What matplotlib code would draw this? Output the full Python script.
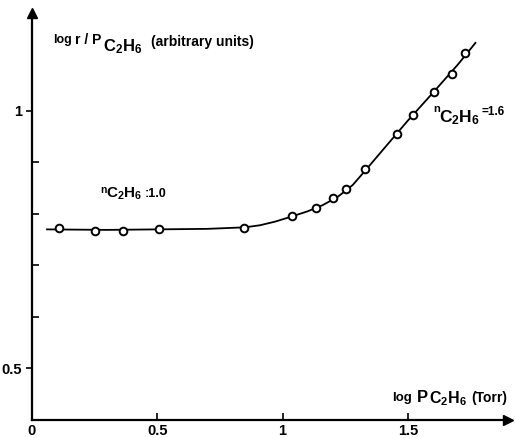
import matplotlib
matplotlib.use("Agg")
import matplotlib.pyplot as plt

# measured points (log P C2H6 vs log r/P C2H6)
log_p = [0.108, 0.251, 0.363, 0.506, 0.845, 1.036, 1.135, 1.200, 1.255,
         1.330, 1.455, 1.520, 1.605, 1.677, 1.730]
log_r = [0.773, 0.767, 0.766, 0.771, 0.773, 0.795, 0.812, 0.831, 0.849,
         0.887, 0.955, 0.992, 1.037, 1.072, 1.112]

# hand-drawn curve through the points
curve_x = [0.06, 0.30, 0.50, 0.70, 0.85, 0.91, 0.97, 1.03, 1.10, 1.16,
           1.22, 1.28, 1.33, 1.40, 1.50, 1.60, 1.70, 1.77]
curve_y = [0.770, 0.769, 0.770, 0.771, 0.774, 0.778, 0.785, 0.794, 0.805,
           0.817, 0.833, 0.856, 0.884, 0.924, 0.981, 1.035, 1.090, 1.132]

x_ticks = [0, 0.5, 1, 1.5]
x_labels = ["0", "0.5", "1", "1.5"]
y_ticks = [0.5, 1]
y_labels = ["0.5", "1"]
y_minor = [0.6, 0.7, 0.8, 0.9]

plt.rcParams["font.family"] = "Liberation Sans"
plt.rcParams["font.weight"] = "bold"
plt.rcParams["mathtext.fontset"] = "custom"
plt.rcParams["mathtext.rm"] = "Liberation Sans:bold"
plt.rcParams["mathtext.it"] = "Liberation Sans:bold"
plt.rcParams["mathtext.bf"] = "Liberation Sans:bold"

W, H = 515, 438
fig = plt.figure(figsize=(W / 100, H / 100), dpi=100)
ax = fig.add_axes([32 / W, 18 / H, 476 / W, 407 / H])
ax.set_xlim(0, 1.9)
ax.set_ylim(0.4, 1.19)

ax.plot(curve_x, curve_y, color="black", lw=1.3)
ax.plot(log_p, log_r, "o", ms=5.5, mfc="white", mec="black", mew=1.4)

for side in ["top", "right"]:
    ax.spines[side].set_visible(False)
for side in ["left", "bottom"]:
    ax.spines[side].set_linewidth(1.6)

# arrow heads on the axes
ax.plot(1, 0, ">k", ms=7, transform=ax.transAxes, clip_on=False)
ax.plot(0, 1, "^k", ms=7, transform=ax.transAxes, clip_on=False)

ax.set_xticks(x_ticks)
ax.set_xticklabels(x_labels, fontsize=10.5, fontweight="bold")
ax.set_yticks(y_ticks)
ax.set_yticklabels(y_labels, fontsize=10.5, fontweight="bold")
ax.set_yticks(y_minor, minor=True)
ax.tick_params(axis="both", which="both", direction="in", length=5, width=1.2, pad=3)
ax.tick_params(axis="y", which="major", direction="out", length=4)


def put(x, y, s, size):
    # x, y in pixels from the top-left corner, y is the baseline
    fig.text(x / W, 1 - y / H, s, fontsize=size, fontweight="bold", va="baseline")


# y-axis label
put(53, 43, "log", 9)
put(75, 44, "r / P", 10)
put(103, 51, r"C$_2$H$_6$", 12)
put(151, 46, "(arbitrary units)", 10)

# slope labels
put(100, 193, "n", 7.5)
put(106, 198, r"C$_2$H$_6$", 11)
put(145, 197, ":1.0", 9)
put(433, 112, "n", 8)
put(439, 122, r"C$_2$H$_6$", 12.5)
put(482, 115, "=1.6", 8.5)

# x-axis label
put(392, 401, "log", 9.5)
put(417, 402, "P", 12)
put(429, 403, r"C$_2$H$_6$", 11.5)
put(471, 402, "(Torr)", 10)

fig.savefig("out.png", dpi=100)
